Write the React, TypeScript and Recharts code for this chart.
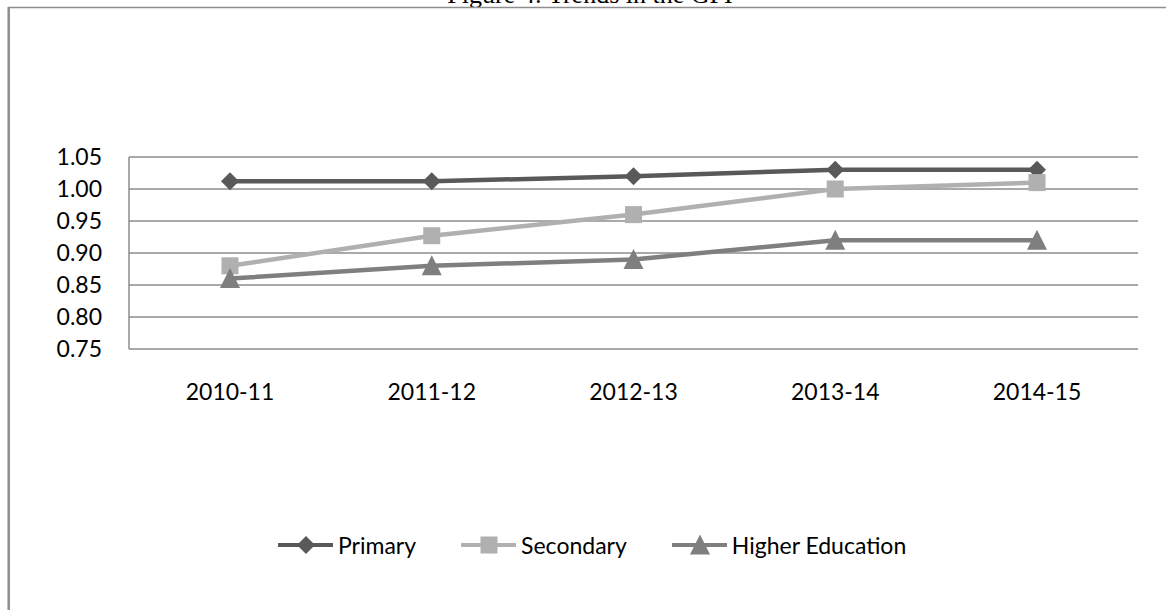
import React from 'react'
import { LineChart, Line, XAxis, YAxis, CartesianGrid, Legend } from 'recharts'

const years = ['2010-11', '2011-12', '2012-13', '2013-14', '2014-15']
const primary = [1.012, 1.012, 1.02, 1.03, 1.03]
const secondary = [0.88, 0.927, 0.96, 1.0, 1.01]
const higher = [0.86, 0.88, 0.89, 0.92, 0.92]
const yTicks = [0.75, 0.8, 0.85, 0.9, 0.95, 1.0, 1.05]
const seriesOrder = ['primary', 'secondary', 'higher']

const data = years.map((year, i) => ({
  year,
  primary: primary[i],
  secondary: secondary[i],
  higher: higher[i],
}))

const FONT = 'Lato, "Open Sans", sans-serif'

const colors: Record<string, string> = {
  primary: '#595959',
  secondary: '#b0b0b0',
  higher: '#7f7f7f',
}

function Marker({ kind, cx, cy, fill }: { kind: string; cx: number; cy: number; fill: string }) {
  if (kind === 'primary') {
    const r = 9
    return <polygon points={`${cx},${cy - r} ${cx + r},${cy} ${cx},${cy + r} ${cx - r},${cy}`} fill={fill} />
  }
  if (kind === 'secondary') {
    const s = 17
    return <rect x={cx - s / 2} y={cy - s / 2} width={s} height={s} fill={fill} />
  }
  const w = 20
  const h = 19
  return <polygon points={`${cx},${cy - h / 2 - 1} ${cx + w / 2},${cy + h / 2} ${cx - w / 2},${cy + h / 2}`} fill={fill} />
}

const dotFor = (kind: string) => (props: any) => {
  const { cx, cy, index } = props
  if (cx == null || cy == null) return <g key={`${kind}-${index}`} />
  return (
    <g key={`${kind}-${index}`}>
      <Marker kind={kind} cx={cx} cy={cy} fill={colors[kind]} />
    </g>
  )
}

function LegendContent(props: any) {
  const items = [...(props.payload || [])].sort(
    (a: any, b: any) => seriesOrder.indexOf(String(a.dataKey)) - seriesOrder.indexOf(String(b.dataKey))
  )
  return (
    <div style={{ display: 'flex', alignItems: 'center', fontFamily: FONT, fontSize: 23, color: '#000' }}>
      {items.map((item: any, i: number) => {
        const kind = String(item.dataKey)
        return (
          <div key={kind} style={{ display: 'flex', alignItems: 'center', marginRight: i < items.length - 1 ? 45 : 0 }}>
            <svg width={55} height={24} style={{ display: 'block' }}>
              <line x1={0} y1={12} x2={55} y2={12} stroke={colors[kind]} strokeWidth={4} strokeLinecap="round" />
              <Marker kind={kind} cx={28} cy={12} fill={colors[kind]} />
            </svg>
            <span style={{ marginLeft: 5, lineHeight: '24px' }}>{item.value}</span>
          </div>
        )
      })}
    </div>
  )
}

export default function App() {
  return (
    <div style={{ position: 'absolute', left: 0, top: 0, width: 1166, height: 610, overflow: 'hidden', background: '#fff' }}>
      <svg width={1166} height={610} style={{ position: 'absolute', left: 0, top: 0 }}>
        <text x={590} y={3} textAnchor="middle" fontFamily='"Liberation Serif", "Times New Roman", serif' fontSize={26} fill="#000">
          Figure 4: Trends in the GPI
        </text>
        <line x1={8} y1={7.5} x2={1166} y2={7.5} stroke="#8e8e8e" strokeWidth={1.5} />
        <line x1={8.7} y1={7} x2={8.7} y2={610} stroke="#8e8e8e" strokeWidth={2.5} />
      </svg>
      <div style={{ position: 'absolute', left: 0, top: 0 }}>
        <LineChart width={1166} height={610} data={data} margin={{ top: 157, right: 28, left: 0, bottom: 221 }}>
          <CartesianGrid horizontal vertical={false} stroke="#8c8c8c" strokeWidth={1.5} />
          <XAxis
            dataKey="year"
            height={40}
            padding={{ left: 101, right: 101 }}
            axisLine={false}
            tickLine={false}
            tickMargin={29}
            tick={{ fontFamily: FONT, fontSize: 23, fill: '#000' }}
          />
          <YAxis
            width={129}
            domain={[0.75, 1.05]}
            ticks={yTicks}
            interval={0}
            tickFormatter={(v: number) => v.toFixed(2)}
            axisLine={{ stroke: '#8c8c8c', strokeWidth: 1.5 }}
            tickLine={false}
            tickMargin={21}
            tick={{ fontFamily: FONT, fontSize: 23, fill: '#000' }}
          />
          <Legend
            layout="horizontal"
            verticalAlign="middle"
            align="center"
            content={<LegendContent />}
            wrapperStyle={{ top: 533, left: 278, width: 800, height: 24 }}
          />
          <Line dataKey="primary" name="Primary" stroke={colors.primary} strokeWidth={4.5} dot={dotFor('primary')} activeDot={false} isAnimationActive={false} />
          <Line dataKey="secondary" name="Secondary" stroke={colors.secondary} strokeWidth={4.5} dot={dotFor('secondary')} activeDot={false} isAnimationActive={false} />
          <Line dataKey="higher" name="Higher Education" stroke={colors.higher} strokeWidth={4.5} dot={dotFor('higher')} activeDot={false} isAnimationActive={false} />
        </LineChart>
      </div>
    </div>
  )
}
